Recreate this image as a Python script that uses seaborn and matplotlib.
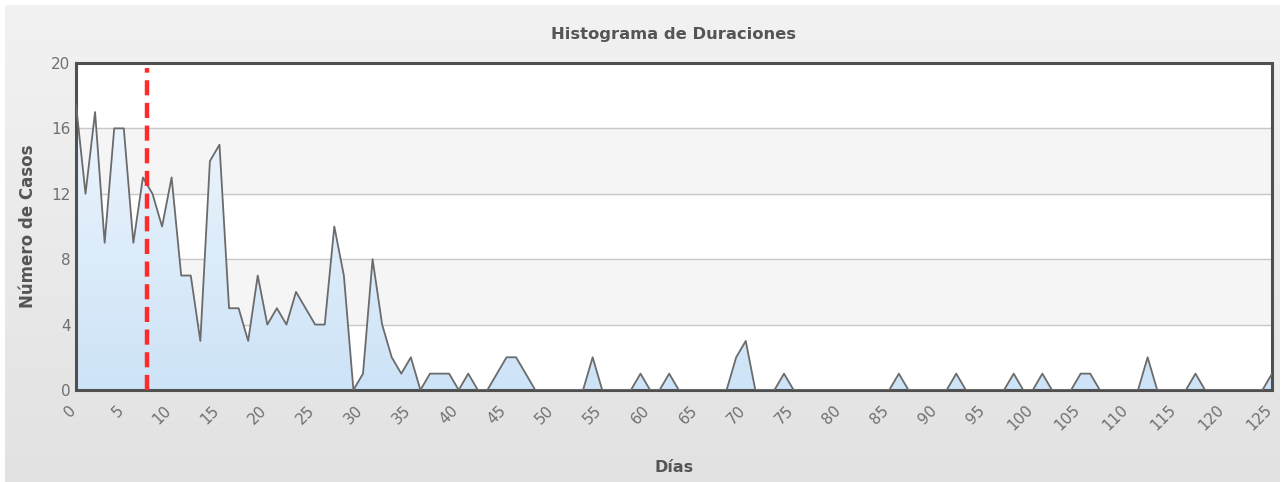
import numpy as np
import pandas as pd
import matplotlib
matplotlib.use("Agg")
import matplotlib.pyplot as plt
import matplotlib.transforms as mtransforms
import seaborn as sns
from matplotlib.patches import PathPatch
from matplotlib.path import Path

# days 0..125 and cases per day
dias = list(range(0, 126))
casos = [17.5, 12, 17, 9, 16, 16, 9, 13, 12, 10,
         13, 7, 7, 3, 14, 15, 5, 5, 3, 7,
         4, 5, 4, 6, 5, 4, 4, 10, 7, 0,
         1, 8, 4, 2, 1, 2, 0, 1, 1, 1,
         0, 1, 0, 0, 1, 2, 2, 1, 0, 0,
         0, 0, 0, 0, 2, 0, 0, 0, 0, 1,
         0, 0, 1, 0, 0, 0, 0, 0, 0, 2,
         3, 0, 0, 0, 1, 0, 0, 0, 0, 0,
         0, 0, 0, 0, 0, 0, 1, 0, 0, 0,
         0, 0, 1, 0, 0, 0, 0, 0, 1, 0,
         0, 1, 0, 0, 0, 1, 1, 0, 0, 0,
         0, 0, 2, 0, 0, 0, 0, 1, 0, 0,
         0, 0, 0, 0, 0, 1]
media = 7.4
y_ticks = [0, 4, 8, 12, 16, 20]
x_ticks = list(range(0, 126, 5))

df = pd.DataFrame({"Dias": dias, "Casos": casos})

sns.set_style("white")
fig = plt.figure(figsize=(12.85, 4.82), dpi=100)
fig.patch.set_facecolor("white")

# background gradient (small white border around it)
bg = fig.add_axes([5 / 1285, 0, 1 - 10 / 1285, 1 - 5 / 482], zorder=-2)
grad = np.linspace(0, 1, 256).reshape(-1, 1)
bg.imshow(grad, aspect="auto", cmap=matplotlib.colors.LinearSegmentedColormap.from_list(
    "bg", ["#f2f2f2", "#e2e2e2"]), extent=[0, 1, 0, 1], origin="upper")
bg.axis("off")

ax = fig.add_axes([0.0591, 0.1909, 0.9308, 0.6784])
ax.set_facecolor("white")
for lo in (4, 12):
    ax.axhspan(lo, lo + 4, color="#f5f5f5", zorder=0)
for t in y_ticks[1:-1]:
    ax.axhline(t, color="#c8c8c8", lw=1, zorder=1)

# gradient fill under the line
verts = [(dias[0], 0)] + list(zip(dias, casos)) + [(dias[-1], 0)]
poly = PathPatch(Path(verts), facecolor="none", edgecolor="none")
ax.add_patch(poly)
fill_cmap = matplotlib.colors.LinearSegmentedColormap.from_list("f", ["#f2f8fe", "#cde3f7"])
im = ax.imshow(np.linspace(0, 1, 256).reshape(-1, 1), aspect="auto", cmap=fill_cmap,
               extent=[0, 125, 0, 20], origin="upper", zorder=2)
im.set_clip_path(poly)

sns.lineplot(data=df, x="Dias", y="Casos", color="#6b6b6b", lw=1.3, ax=ax, zorder=3)
ax.axvline(media, ymax=0.985, color="#ff2b2b", lw=3.2, ls=(0, (3.4, 1.7)), zorder=4)

ax.set_xlim(0, 125)
ax.set_ylim(0, 20)
ax.set_yticks(y_ticks)
ax.set_xticks(x_ticks)
ax.set_xticklabels([str(x) for x in x_ticks], rotation=45, ha="right", va="top",
                   rotation_mode="anchor")
ax.tick_params(axis="both", labelsize=11, colors="#707070", length=0, pad=4)
ax.tick_params(axis="x", pad=9)
fig.canvas.draw()
shift = mtransforms.ScaledTranslation(-8 / 100, 0, fig.dpi_scale_trans)
for lab in ax.get_xticklabels():
    lab.set_transform(lab.get_transform() + shift)
for s in ax.spines.values():
    s.set_color("#505050")
    s.set_linewidth(2.2)

ax.set_xlabel("Días", fontsize=11.5, fontweight="bold", color="#555555", labelpad=19)
ax.set_ylabel("Número de Casos", fontsize=12, fontweight="bold", color="#555555", labelpad=10)
ax.set_title("Histograma de Duraciones", fontsize=11.8, fontweight="bold", color="#555555", pad=17)

fig.savefig("out.png", dpi=100)
